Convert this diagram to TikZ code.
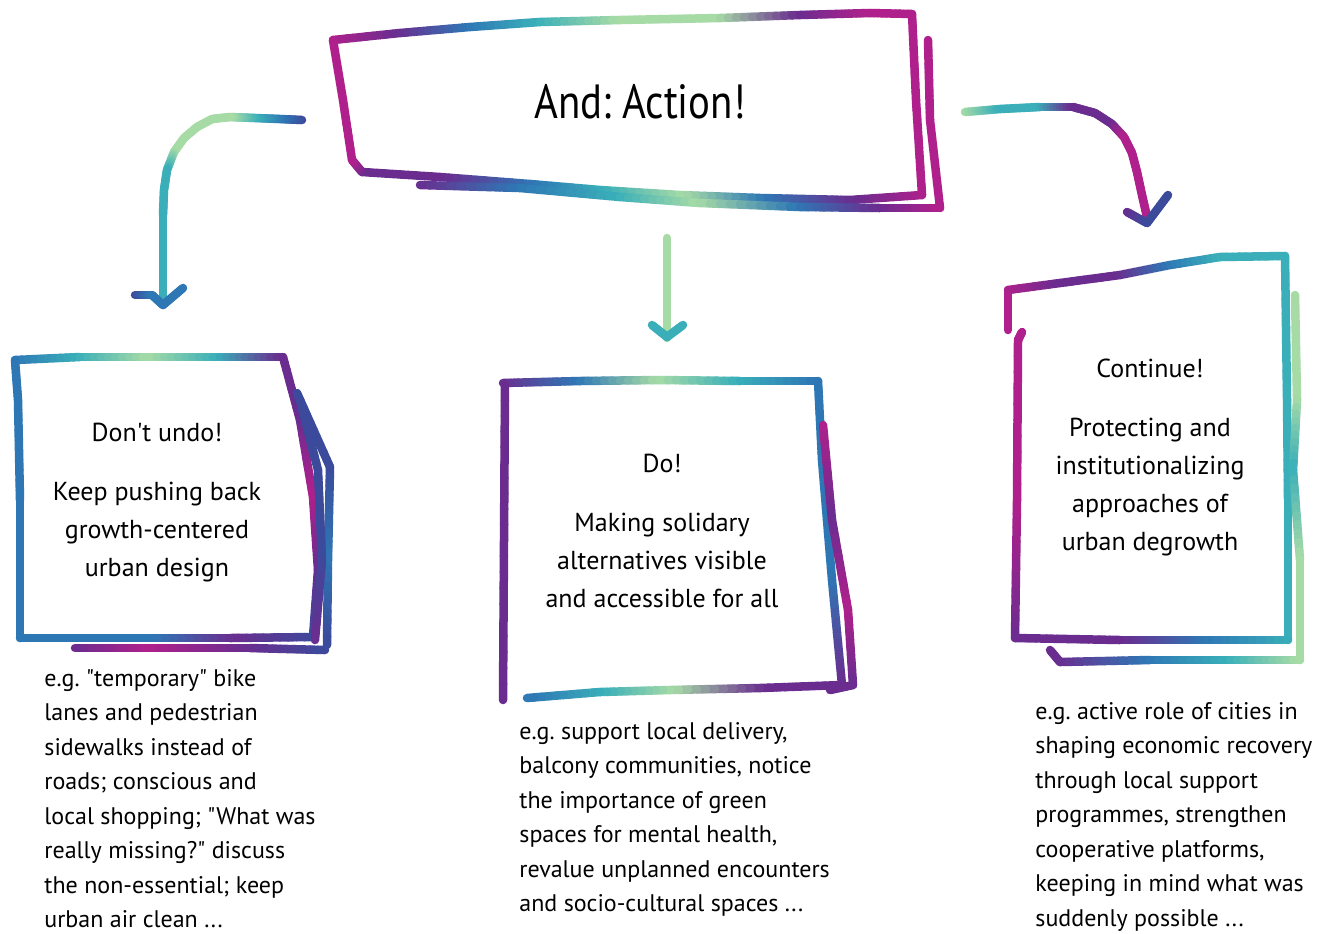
\documentclass[tikz,border=0pt]{standalone}
\usepackage{fontspec}
\setmainfont{PT Sans}[Ligatures=TeXOff]
\usetikzlibrary{calc}
\frenchspacing

%% glitter colours
\definecolor{gmag}{HTML}{B0208C}
\definecolor{gpur}{HTML}{6A2D8F}
\definecolor{gnavy}{HTML}{3C4A9C}
\definecolor{gblue}{HTML}{2E77B5}
\definecolor{gteal}{HTML}{3AAFB9}
\definecolor{ggreen}{HTML}{A6DBA6}

\tikzset{
  glitter/.style={line width=4.25pt, line cap=round, line join=round},
  boxtext/.style={align=center, inner sep=0pt, font=\fontsize{13}{19}\selectfont},
  notetext/.style={align=left, anchor=north west, inner sep=0pt, font=\fontsize{12}{17.25}\selectfont},
}

%% one stroke piece, colour running from #3 to #4
\newcommand\grad[4]{%
  \foreach \k in {0,...,9}{%
    \pgfmathtruncatemacro\pc{(\k+0.5)*10}%
    \draw[glitter, draw=#4!\pc!#3] ($(#1)!\k/10!(#2)$) -- ($(#1)!\k/10+0.1!(#2)$);
  }}
%% hand drawn stroke through x/y/colour points
\newcommand\glit[1]{%
  \foreach \x/\y/\c [count=\n, remember=\x as \lx (initially 0),
      remember=\y as \ly (initially 0), remember=\c as \lc (initially gmag)] in {#1}{%
    \ifnum\n>1 \grad{\lx,\ly}{\x,\y}{\lc}{\c}\fi}}

\begin{document}
\begin{tikzpicture}[x=0.5pt, y=-0.5pt]
    \fill[white] (0,0) rectangle (1336,933);
    \useasboundingbox (0,0) rectangle (1336,933);

    %% title box
    \glit{333/40/gmag, 400/33/gpur, 470/27/gblue, 540/22/gteal, 620/20/ggreen, 720/18/ggreen,
          800/15/gpur, 870/13/gmag, 912/14/gmag, 916/100/gmag, 922/195/gmag, 850/200/gpur,
          760/198/gblue, 680/195/ggreen, 600/190/gteal, 530/184/gblue, 440/177/gpur,
          362/172/gpur, 352/160/gmag, 343/100/gmag, 333/40/gmag}
    \glit{420/185/gpur, 520/188/gblue, 620/197/gteal, 700/203/ggreen, 800/207/gblue,
          880/208/gpur, 940/208/gmag}
    \glit{928/40/gmag, 930/120/gmag, 940/208/gmag}
    \node[boxtext, font=\fontsize{24}{30}\selectfont\addfontfeature{FakeStretch=0.85}]
        (title) at (640,102) {And: Action!};

    %% left box
    \glit{15/360/gblue, 80/357/gteal, 150/357/ggreen, 220/357/gteal, 283/357/gpur,
          300/420/gpur, 313/497/gmag, 318/570/gpur, 313/637/gnavy, 230/638/gpur,
          150/638/gblue, 20/638/gblue, 20/500/gblue, 18/400/gblue, 15/360/gblue}
    \glit{75/648/gpur, 150/648/gmag, 250/648/gpur, 325/650/gnavy}
    \glit{297/393/gnavy, 330/467/gnavy, 328/560/gblue, 327/645/gnavy}
    \glit{300/400/gnavy, 318/470/gnavy, 322/560/gnavy, 315/640/gpur}
    \node[boxtext] (undo) at (157,503)
        {Don't undo!\\[10.5pt] Keep pushing back\\ growth-centered\\ urban design};

    %% middle box
    \glit{503/383/gpur, 580/381/gblue, 660/380/ggreen, 740/381/gteal, 818/381/gblue,
          822/460/gblue, 832/580/gblue, 842/685/gpur, 760/688/gpur, 670/690/ggreen,
          600/692/gteal, 527/698/gblue}
    \glit{505/385/gpur, 504/540/gpur, 503/700/gpur}
    \glit{823/425/gmag, 832/520/gpur, 848/610/gmag, 853/685/gpur, 830/690/gpur}
    \node[boxtext] (do) at (662,531)
        {Do!\\[10.5pt] Making solidary\\ alternatives visible\\ and accessible for all};

    %% right box
    \glit{1008/330/gmag, 1008/290/gmag, 1060/283/gpur, 1120/275/gpur, 1170/265/gblue,
          1220/257/gteal, 1285/256/gteal, 1287/400/gteal, 1288/500/gteal, 1288/640/gteal,
          1200/640/gblue, 1120/640/gpur, 1015/638/gpur, 1017/500/gmag, 1018/340/gmag,
          1022/332/gmag}
    \glit{1050/650/gpur, 1060/662/gpur, 1150/660/gblue, 1230/660/gteal, 1300/660/ggreen}
    \glit{1295/295/ggreen, 1297/400/ggreen, 1293/470/gteal, 1300/560/ggreen, 1300/660/ggreen}
    \node[boxtext] (cont) at (1150,457)
        {Continue!\\[10.5pt] Protecting and\\ institutionalizing\\ approaches of\\ urban degrowth};

    %% arrows (smoothed by hand)
    \glit{302/120/gnavy, 280/119/gblue, 255/118/gteal, 230/117/ggreen, 212/119/ggreen,
          197/127/ggreen, 184/138/ggreen, 174/152/ggreen, 167/170/gteal, 164/190/gteal,
          163/215/gteal, 163/300/gteal}
    \glit{135/295/gnavy, 152/295/gblue, 163/305/gblue, 183/288/gblue}
    \glit{667/238/ggreen, 667/338/ggreen}
    \glit{652/325/gteal, 667/337/gteal, 683/325/gteal}
    \glit{965/112/ggreen, 1000/109/gteal, 1040/107/gteal, 1073/107/gpur, 1095/113/gpur,
          1112/124/gpur, 1124/137/gmag, 1132/153/gmag, 1137/172/gmag, 1142/195/gmag,
          1147/217/gmag}
    \glit{1127/212/gpur, 1147/223/gnavy, 1168/195/gnavy}

    %% examples below the boxes
    \node[notetext] (undoex) at (44,669)
        {e.g. "temporary" bike\\ lanes and pedestrian\\ sidewalks instead of\\ roads; conscious and\\
         local shopping; "What was\\ really missing?" discuss\\ the non-essential; keep\\ urban air clean ...};
    \node[notetext] (doex) at (519,722)
        {e.g. support local delivery,\\ balcony communities, notice\\ the importance of green\\
         spaces for mental health,\\ revalue unplanned encounters\\ and socio-cultural spaces ...};
    \node[notetext] (contex) at (1035,702)
        {e.g. active role of cities in\\ shaping economic recovery\\ through local support\\
         programmes, strengthen\\ cooperative platforms,\\ keeping in mind what was\\ suddenly possible ...};
\end{tikzpicture}
\end{document}
